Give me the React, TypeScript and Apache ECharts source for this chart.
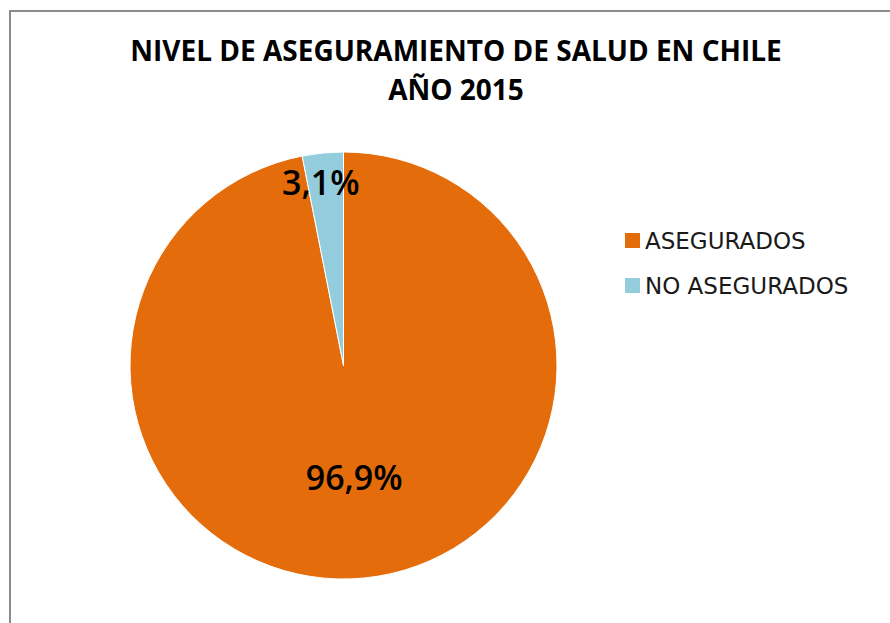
import React, { useEffect, useRef } from "react";
import * as echarts from "echarts";

const titleLines = ["NIVEL DE ASEGURAMIENTO DE SALUD EN CHILE", "AÑO 2015"];
const categories = ["ASEGURADOS", "NO ASEGURADOS"];
const values = [96.9, 3.1];
const labels = ["96,9%", "3,1%"];
const colors = ["#E46C0A", "#93CDDD"];

export default function App() {
  const ref = useRef<HTMLDivElement>(null);
  useEffect(() => {
    if (!ref.current) return;
    const chart = echarts.init(ref.current, undefined, { renderer: "svg" });
    const data = categories.map((name, i) => ({
      name,
      value: values[i],
      itemStyle: { color: colors[i] },
      label: {
        formatter: labels[i],
        offset: i === 1 ? [-12, -74] : [0, 2],
      },
    }));
    chart.setOption({
      animation: false,
      backgroundColor: "#ffffff",
      graphic: [
        {
          type: "rect",
          shape: { x: 10, y: 11, width: 1000, height: 1000 },
          style: { fill: "none", stroke: "#8c8c8c", lineWidth: 2 },
          silent: true,
        },
        {
          type: "text",
          x: 456,
          y: 50,
          style: {
            text: titleLines[0],
            fontFamily: "Open Sans",
            fontWeight: "bold",
            fontSize: 28,
            fill: "#000",
            align: "center",
            verticalAlign: "middle",
          },
        },
        {
          type: "text",
          x: 456,
          y: 89,
          style: {
            text: titleLines[1],
            fontFamily: "Open Sans",
            fontWeight: "bold",
            fontSize: 28,
            fill: "#000",
            align: "center",
            verticalAlign: "middle",
          },
        },
      ],
      legend: {
        orient: "vertical",
        left: 625,
        top: 229,
        padding: 0,
        icon: "rect",
        itemWidth: 15,
        itemHeight: 15,
        itemGap: 22,
        data: categories,
        selectedMode: false,
        itemStyle: { borderWidth: 0 },
        textStyle: {
          fontFamily: "DejaVu Sans",
          fontSize: 23,
          color: "#1a1a1a",
          padding: [0, 0, 0, 0],
        },
      },
      series: [
        {
          type: "pie",
          center: [343.5, 365.5],
          radius: 213.5,
          startAngle: 90,
          clockwise: true,
          data,
          itemStyle: { borderColor: "#ffffff", borderWidth: 1 },
          label: {
            show: true,
            position: "inside",
            fontFamily: "Open Sans",
            fontWeight: 600,
            fontSize: 34,
            color: "#000",
          },
          labelLine: { show: false },
          emphasis: { disabled: true },
        },
      ],
    });
    return () => chart.dispose();
  }, []);
  return (
    <div
      ref={ref}
      style={{ position: "fixed", left: 0, top: 0, width: 890, height: 623 }}
    />
  );
}
